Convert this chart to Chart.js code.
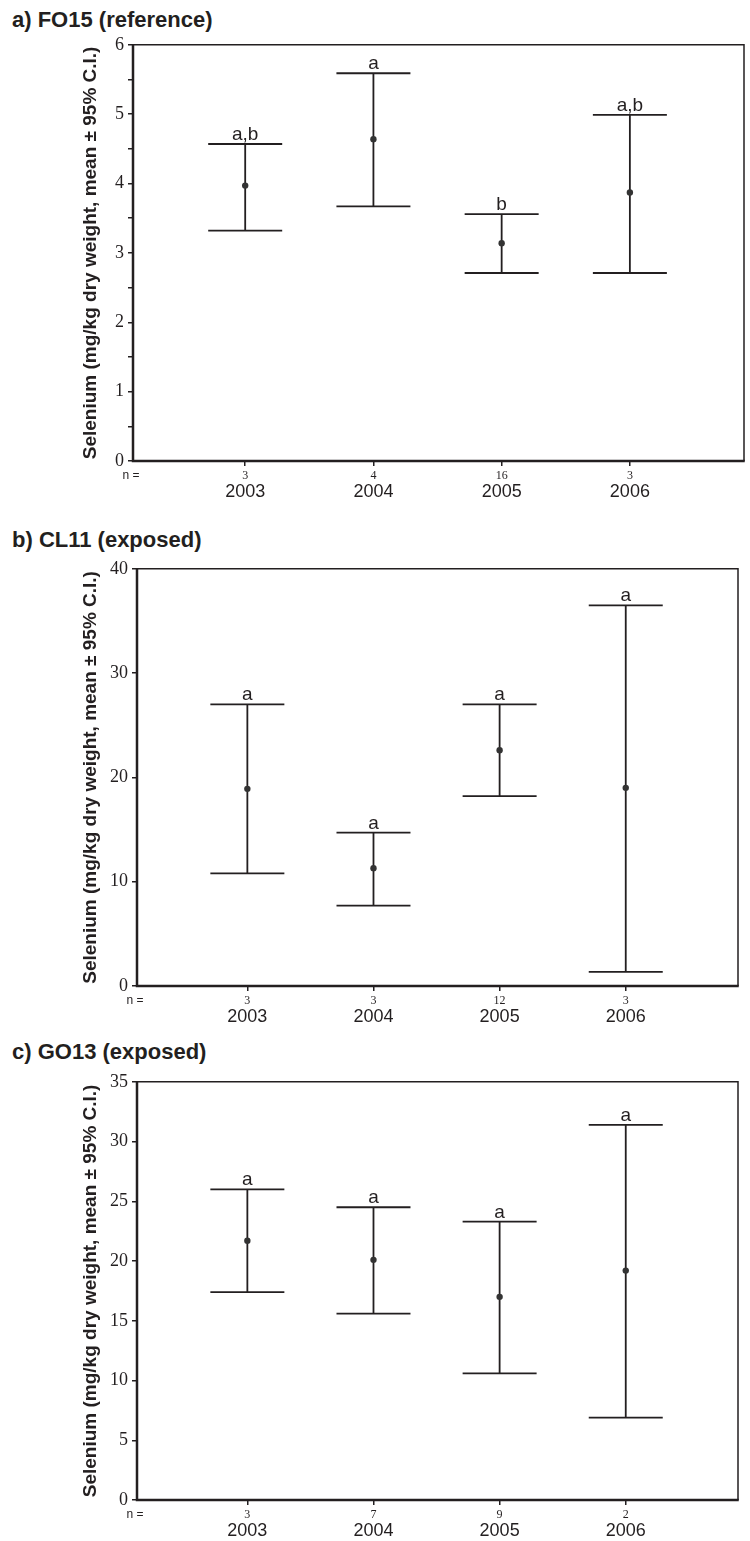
<!DOCTYPE html>
<html>
<head>
<meta charset="utf-8">
<script src="https://cdn.jsdelivr.net/npm/chart.js@4/dist/chart.umd.min.js"></script>
<style>
  body { margin: 0; background: #fff; width: 750px; height: 1541px; position: relative; overflow: hidden; }
  .ttl { position: absolute; left: 12px; font: bold 22px "Liberation Sans", Arial, sans-serif; color: #231f20; line-height: 26px; white-space: nowrap; }
  canvas { position: absolute; left: 0; }
</style>
</head>
<body>
<div class="ttl" style="top:7px">a) FO15 (reference)</div>
<div class="ttl" style="top:527px">b) CL11 (exposed)</div>
<div class="ttl" style="top:1039px">c) GO13 (exposed)</div>
<canvas id="chartA"></canvas>
<canvas id="chartB"></canvas>
<canvas id="chartC"></canvas>
<script>
const years = ['2003', '2004', '2005', '2006'];

// a) FO15
const foMean = [3.97, 4.64, 3.14, 3.87];
const foLow = [3.32, 3.67, 2.71, 2.71];
const foHigh = [4.57, 5.59, 3.56, 4.99];
const foN = ['3', '4', '16', '3'];
const foLetters = ['a,b', 'a', 'b', 'a,b'];

// b) CL11
const clMean = [18.9, 11.3, 22.6, 19.0];
const clLow = [10.8, 7.7, 18.2, 1.35];
const clHigh = [27.0, 14.7, 27.0, 36.5];
const clN = ['3', '3', '12', '3'];
const clLetters = ['a', 'a', 'a', 'a'];

// c) GO13
const goMean = [21.7, 20.1, 17.0, 19.2];
const goLow = [17.4, 15.6, 10.6, 6.9];
const goHigh = [26.0, 24.5, 23.3, 31.4];
const goN = ['3', '7', '9', '2'];
const goLetters = ['a', 'a', 'a', 'a'];

const INK = '#231f20';
const yTitle = 'Selenium (mg/kg dry weight, mean \u00b1 95% C.I.)';

// error bars, box, letters and the n / year rows
const errorBars = {
  id: 'errorBars',
  beforeDatasetsDraw(chart, args, opts) {
    const { ctx, chartArea: a, scales: { x, y } } = chart;
    ctx.save();
    ctx.strokeStyle = INK;
    ctx.lineWidth = 1.8;
    const half = 37;
    opts.low.forEach((lo, i) => {
      const px = x.getPixelForValue(i);
      const yl = y.getPixelForValue(lo);
      const yh = y.getPixelForValue(opts.high[i]);
      ctx.beginPath();
      ctx.moveTo(px, yh); ctx.lineTo(px, yl);
      ctx.moveTo(px - half, yh); ctx.lineTo(px + half, yh);
      ctx.moveTo(px - half, yl); ctx.lineTo(px + half, yl);
      ctx.stroke();

      ctx.fillStyle = INK;
      ctx.font = '19px "Liberation Sans", Arial, sans-serif';
      ctx.textAlign = 'center';
      ctx.textBaseline = 'alphabetic';
      ctx.fillText(opts.letters[i], px, yh - 4);
    });

    // n row + years
    ctx.textBaseline = 'middle';
    ctx.font = '12px "Liberation Serif", "Times New Roman", serif';
    opts.n.forEach((n, i) => ctx.fillText(n, x.getPixelForValue(i), a.bottom + 15));
    ctx.font = '18px "Liberation Sans", Arial, sans-serif';
    years.forEach((yr, i) => ctx.fillText(yr, x.getPixelForValue(i), a.bottom + 31));
    ctx.font = '12px "Liberation Sans", Arial, sans-serif';
    ctx.fillText('n =', a.left - 2, a.bottom + 15);

    // frame: heavier left/bottom
    ctx.lineWidth = 1.5;
    ctx.beginPath();
    ctx.moveTo(a.left, a.top); ctx.lineTo(a.right, a.top); ctx.lineTo(a.right, a.bottom);
    ctx.stroke();
    ctx.lineWidth = 2.5;
    ctx.beginPath();
    ctx.moveTo(a.left, a.top - 0.75); ctx.lineTo(a.left, a.bottom); ctx.lineTo(a.right + 0.75, a.bottom);
    ctx.stroke();
    ctx.restore();
  }
};

function makePanel(id, canvasTop, areaTop, areaBottom, areaLeft, areaRight, yMax, yStep, mean, low, high, n, letters) {
  const cv = document.getElementById(id);
  const h = areaBottom - canvasTop + 41;
  cv.width = 750; cv.height = h;
  cv.style.top = canvasTop + 'px';
  const padLeft = 79;
  return new Chart(cv, {
    type: 'scatter',
    data: {
      datasets: [{
        data: mean.map((m, i) => ({ x: i, y: m })),
        pointRadius: 3.2,
        pointBackgroundColor: '#333',
        pointBorderWidth: 0
      }]
    },
    options: {
      responsive: false,
      animation: false,
      devicePixelRatio: 1,
      layout: { padding: { left: padLeft, right: 750 - areaRight, top: areaTop - canvasTop, bottom: 0 } },
      plugins: {
        legend: { display: false },
        tooltip: { enabled: false },
        errorBars: { low, high, n, letters }
      },
      scales: {
        x: {
          type: 'linear',
          min: -0.875,
          max: 3.89,
          afterBuildTicks: s => { s.ticks = years.map((_, i) => ({ value: i })); },
          afterFit: s => { s.height = 41; },
          ticks: { display: false },
          border: { display: false },
          grid: { drawOnChartArea: false, drawTicks: true, tickLength: 5, color: INK, lineWidth: 1.5 }
        },
        y: {
          min: 0,
          max: yMax,
          afterFit: s => { s.width = areaLeft - padLeft; },
          ticks: {
            stepSize: yStep,
            padding: 4,
            color: INK,
            font: { family: '"Liberation Serif", "Times New Roman", serif', size: 18 },
            callback: v => (Number.isInteger(v) ? String(v) : '')
          },
          border: { display: false },
          grid: { drawOnChartArea: false, drawTicks: true, tickLength: 5, color: INK, lineWidth: 1.5 },
          title: {
            display: true,
            text: yTitle,
            color: INK,
            padding: 0,
            font: { family: '"Liberation Sans", Arial, sans-serif', size: 19, weight: 'bold' }
          }
        }
      }
    },
    plugins: [errorBars]
  });
}

makePanel('chartA', 30, 42, 461, 133, 744, 6, 0.5, foMean, foLow, foHigh, foN, foLetters);
makePanel('chartB', 554, 566, 986, 137, 738, 40, 10, clMean, clLow, clHigh, clN, clLetters);
makePanel('chartC', 1067, 1079, 1500, 137, 738, 35, 5, goMean, goLow, goHigh, goN, goLetters);
</script>
</body>
</html>
